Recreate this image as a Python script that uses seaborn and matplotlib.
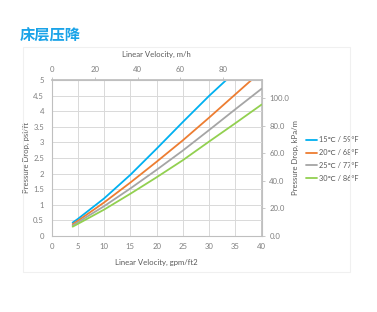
import matplotlib
matplotlib.use("Agg")
import matplotlib.pyplot as plt
import matplotlib.patches as mpatches
from matplotlib.ticker import FuncFormatter
import pandas as pd
import seaborn as sns

# Bed pressure drop vs. linear velocity, one curve per water temperature
series_names = ["15℃ / 59°F", "20℃ / 68°F", "25℃ / 77°F", "30℃ / 86°F"]

vel_15 = [4, 5, 10, 15, 20, 25, 30, 33.2]
dp_15 = [0.42, 0.54, 1.20, 1.96, 2.80, 3.66, 4.50, 5.00]

vel_20 = [4, 5, 10, 15, 20, 25, 30, 35, 38]
dp_20 = [0.37, 0.48, 1.07, 1.71, 2.38, 3.07, 3.80, 4.55, 5.00]

vel_25 = [4, 5, 10, 15, 20, 25, 30, 35, 40]
dp_25 = [0.33, 0.43, 0.95, 1.52, 2.12, 2.74, 3.40, 4.07, 4.73]

vel_30 = [4, 5, 10, 15, 20, 25, 30, 35, 40]
dp_30 = [0.29, 0.38, 0.84, 1.35, 1.88, 2.43, 3.03, 3.62, 4.22]

line_colors = ["#00B0F0", "#ED7D31", "#A5A5A5", "#92D050"]

x_ticks = [0, 5, 10, 15, 20, 25, 30, 35, 40]
y_ticks = [0, 0.5, 1, 1.5, 2, 2.5, 3, 3.5, 4, 4.5, 5]
top_ticks = [0, 20, 40, 60, 80]
right_ticks = [0, 20, 40, 60, 80, 100]

GPM_TO_MH = 2.4448      # 1 gpm/ft2 in m/h
PSI_TO_KPA = 22.6206    # 1 psi/ft in kPa/m

frames = []
for name, v, p in zip(series_names,
                      [vel_15, vel_20, vel_25, vel_30],
                      [dp_15, dp_20, dp_25, dp_30]):
    frames.append(pd.DataFrame({"gpm": v, "psi": p, "temp": name}))
df = pd.concat(frames, ignore_index=True)

sns.set_theme(style="white")
plt.rcParams["font.family"] = ["Lato", "DejaVu Sans"]

tick_col = "#7f7f7f"
label_col = "#595959"
spine_col = "#bfbfbf"
grid_col = "#d9d9d9"
fs = 5.6

fig = plt.figure(figsize=(3.77, 3.12), dpi=100)
ax = fig.add_axes([0.137, 0.2446, 0.557, 0.498])

sns.lineplot(data=df, x="gpm", y="psi", hue="temp", palette=line_colors,
             sort=False, linewidth=1.3, ax=ax, legend=True)

ax.set_xlim(0, 40)
ax.set_ylim(0, 5)
ax.set_xticks(x_ticks)
ax.set_yticks(y_ticks)
ax.yaxis.set_major_formatter(FuncFormatter(lambda v, _: f"{v:g}"))
ax.grid(True, color=grid_col, linewidth=0.7)
ax.set_axisbelow(True)

for s in ax.spines.values():
    s.set_color(spine_col)
    s.set_linewidth(0.8)

ax.tick_params(axis="both", labelsize=fs, colors=tick_col, length=2.5,
               width=0.6, direction="out", pad=3)
ax.tick_params(axis="both", color=spine_col)

ax.set_xlabel("Linear Velocity, gpm/ft2", fontsize=fs, color=label_col, labelpad=6)
ax.set_ylabel("Pressure Drop, psi/ft", fontsize=fs, color=label_col, labelpad=2)

# Secondary axes in metric units
top = ax.secondary_xaxis("top", functions=(lambda g: g * GPM_TO_MH,
                                            lambda m: m / GPM_TO_MH))
top.set_xticks(top_ticks)
top.tick_params(labelsize=fs, colors=tick_col, length=2.5, width=0.6, pad=3)
top.tick_params(color=spine_col)
top.spines["top"].set_color(spine_col)
top.set_xlabel("Linear Velocity, m/h", fontsize=fs, color=label_col, labelpad=6)

right = ax.secondary_yaxis("right", functions=(lambda p: p * PSI_TO_KPA,
                                                lambda k: k / PSI_TO_KPA))
right.set_yticks(right_ticks)
right.yaxis.set_major_formatter(FuncFormatter(lambda v, _: f"{v:.1f}"))
right.tick_params(labelsize=fs, colors=tick_col, length=2.5, width=0.6, pad=3)
right.tick_params(color=spine_col)
right.spines["right"].set_color(spine_col)
right.set_ylabel("Pressure Drop, kPa/m", fontsize=fs, color=label_col, labelpad=2)

sns.move_legend(ax, "center left", bbox_to_anchor=(0.803, 0.49),
                bbox_transform=fig.transFigure, title=None, frameon=False,
                fontsize=5.3, handlelength=1.6, handletextpad=0.15,
                labelspacing=0.8, borderaxespad=0)
for t in ax.get_legend().get_texts():
    t.set_color(label_col)
for h in ax.get_legend().legend_handles:
    h.set_linewidth(1.3)

# Chart area frame
fig.patches.append(mpatches.Rectangle((0.061, 0.128), 0.868, 0.72,
                                      transform=fig.transFigure, fill=False,
                                      edgecolor="#f0f0f0", linewidth=0.8))

fig.text(0.053, 0.885, "床层压降", fontsize=11, fontweight="bold",
         color="#1AA3E8", va="center", ha="left",
         family=["Noto Sans CJK SC", "DejaVu Sans"])

fig.savefig("out.png", dpi=100, facecolor="white")
